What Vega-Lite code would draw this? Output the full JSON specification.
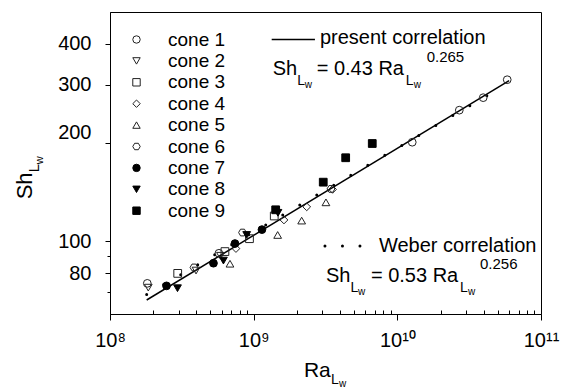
{
  "$schema": "https://vega.github.io/schema/vega-lite/v6.json",
  "width": 431,
  "height": 302,
  "autosize": {"type": "none"},
  "padding": {"left": 110, "top": 12, "right": 28, "bottom": 75},
  "background": "white",
  "config": {
    "font": "Liberation Sans",
    "view": {"stroke": "#000", "strokeWidth": 1},
    "axis": {"domainColor": "#000", "tickColor": "#000", "labelColor": "#000", "grid": false, "labelFont": "Liberation Sans", "labelFontSize": 20, "labelOverlap": false, "labelFlush": false},
    "text": {"font": "Liberation Sans", "color": "#000"}
  },
  "datasets": {
    "points": [
      {"cone": "cone 1", "Ra": 1.818e8, "Sh": 74.4},
      {"cone": "cone 1", "Ra": 5.73e8, "Sh": 91.9},
      {"cone": "cone 1", "Ra": 1.27e10, "Sh": 200.4},
      {"cone": "cone 1", "Ra": 2.70e10, "Sh": 251.0},
      {"cone": "cone 1", "Ra": 3.96e10, "Sh": 274.0},
      {"cone": "cone 1", "Ra": 5.82e10, "Sh": 310.8},
      {"cone": "cone 2", "Ra": 1.847e8, "Sh": 72.2},
      {"cone": "cone 2", "Ra": 3.97e8, "Sh": 81.4},
      {"cone": "cone 2", "Ra": 5.87e8, "Sh": 90.3},
      {"cone": "cone 3", "Ra": 2.96e8, "Sh": 79.8},
      {"cone": "cone 3", "Ra": 6.31e8, "Sh": 93.0},
      {"cone": "cone 3", "Ra": 9.35e8, "Sh": 101.8},
      {"cone": "cone 3", "Ra": 1.391e9, "Sh": 119.4},
      {"cone": "cone 4", "Ra": 7.53e8, "Sh": 95.0},
      {"cone": "cone 4", "Ra": 1.625e9, "Sh": 116.1},
      {"cone": "cone 4", "Ra": 2.34e9, "Sh": 127.3},
      {"cone": "cone 4", "Ra": 3.54e9, "Sh": 143.9},
      {"cone": "cone 5", "Ra": 6.84e8, "Sh": 85.4},
      {"cone": "cone 5", "Ra": 1.469e9, "Sh": 104.5},
      {"cone": "cone 5", "Ra": 2.158e9, "Sh": 115.6},
      {"cone": "cone 5", "Ra": 3.185e9, "Sh": 131.4},
      {"cone": "cone 6", "Ra": 3.84e8, "Sh": 83.2},
      {"cone": "cone 6", "Ra": 8.36e8, "Sh": 106.3},
      {"cone": "cone 6", "Ra": 3.45e9, "Sh": 144.4},
      {"cone": "cone 7", "Ra": 2.474e8, "Sh": 73.1},
      {"cone": "cone 7", "Ra": 5.25e8, "Sh": 85.7},
      {"cone": "cone 7", "Ra": 7.41e8, "Sh": 98.4},
      {"cone": "cone 7", "Ra": 1.142e9, "Sh": 108.5},
      {"cone": "cone 8", "Ra": 2.95e8, "Sh": 71.9},
      {"cone": "cone 8", "Ra": 6.16e8, "Sh": 87.3},
      {"cone": "cone 8", "Ra": 8.94e8, "Sh": 104.5},
      {"cone": "cone 8", "Ra": 1.476e9, "Sh": 122.1},
      {"cone": "cone 9", "Ra": 1.423e9, "Sh": 124.7},
      {"cone": "cone 9", "Ra": 3.05e9, "Sh": 151.4},
      {"cone": "cone 9", "Ra": 4.37e9, "Sh": 179.7},
      {"cone": "cone 9", "Ra": 6.69e9, "Sh": 198.6}
    ],
    "present": [
      {"Ra": 1.8e8, "Sh": 66.2},
      {"Ra": 6.0e10, "Sh": 308.8}
    ],
    "weber": [
      {"Ra": 1.8e8, "Sh": 68.8},
      {"Ra": 5.5e10, "Sh": 297.7}
    ]
  },
  "layer": [
    {
      "data": {"name": "present"},
      "mark": {"type": "line", "stroke": "#000", "strokeWidth": 1.5},
      "encoding": {
        "x": {"field": "Ra", "type": "quantitative", "title": null,
          "scale": {"type": "log", "domain": [1e8, 1e11], "nice": false},
          "axis": {
            "values": [1e8, 2e8, 3e8, 4e8, 5e8, 6e8, 7e8, 8e8, 9e8, 1e9, 2e9, 3e9, 4e9, 5e9, 6e9, 7e9, 8e9, 9e9, 1e10, 2e10, 3e10, 4e10, 5e10, 6e10, 7e10, 8e10, 9e10, 1e11],
            "labelExpr": "datum.value == 100000000 ? '10\u2078' : datum.value == 1000000000 ? '10\u2079' : datum.value == 10000000000 ? '10\u00b9\u2070' : datum.value == 100000000000 ? '10\u00b9\u00b9' : ''",
            "tickSize": {"condition": {"test": "abs(log(datum.value)/LN10 - round(log(datum.value)/LN10)) < 0.001", "value": 6}, "value": -4},
            "labelPadding": 10,
            "title": null
          }
        },
        "y": {"field": "Sh", "type": "quantitative", "title": null,
          "scale": {"type": "log", "domain": [60, 500], "nice": false},
          "axis": {
            "values": [70, 80, 90, 100, 200, 300, 400],
            "labelExpr": "datum.value == 70 || datum.value == 90 ? '' : datum.label",
            "tickSize": {"condition": {"test": "datum.value == 70 || datum.value == 90", "value": 3}, "value": 5},
            "labelOffset": {"condition": {"test": "datum.value == 200", "value": -10}, "value": 0},
            "labelPadding": 14,
            "title": null
          }
        }
      }
    },
    {
      "data": {"name": "weber"},
      "mark": {"type": "line", "stroke": "#000", "strokeWidth": 3, "strokeDash": [0, 19.7], "strokeCap": "round"},
      "encoding": {
        "x": {"field": "Ra", "type": "quantitative", "title": null, "scale": {"type": "log", "domain": [1e8, 1e11], "nice": false}},
        "y": {"field": "Sh", "type": "quantitative", "title": null, "scale": {"type": "log", "domain": [60, 500], "nice": false}}
      }
    },
    {
      "data": {"name": "points"},
      "mark": {"type": "point", "filled": true, "strokeWidth": 1, "size": 60, "opacity": 1},
      "encoding": {
        "x": {"field": "Ra", "type": "quantitative", "title": null, "scale": {"type": "log", "domain": [1e8, 1e11], "nice": false}},
        "y": {"field": "Sh", "type": "quantitative", "title": null, "scale": {"type": "log", "domain": [60, 500], "nice": false}},
        "shape": {"field": "cone", "type": "nominal",
          "scale": {"domain": ["cone 1", "cone 2", "cone 3", "cone 4", "cone 5", "cone 6", "cone 7", "cone 8", "cone 9"],
            "range": ["circle", "triangle-down", "square", "diamond", "triangle-up", "M-1,0L-0.5,-0.866L0.5,-0.866L1,0L0.5,0.866L-0.5,0.866Z", "circle", "triangle-down", "square"]},
          "legend": {"orient": "none", "legendX": 17, "legendY": 18, "title": null, "labelFontSize": 19, "labelFont": "Liberation Sans", "labelColor": "#000", "symbolSize": 55, "symbolStrokeWidth": 1, "rowPadding": 1.4, "labelOffset": 22, "padding": 0}
        },
        "fill": {"field": "cone", "type": "nominal",
          "scale": {"domain": ["cone 1", "cone 2", "cone 3", "cone 4", "cone 5", "cone 6", "cone 7", "cone 8", "cone 9"],
            "range": ["transparent", "transparent", "transparent", "transparent", "transparent", "transparent", "#000", "#000", "#000"]},
          "legend": {"orient": "none", "legendX": 17, "legendY": 18, "title": null, "labelFontSize": 19, "labelFont": "Liberation Sans", "labelColor": "#000", "symbolSize": 55, "symbolStrokeWidth": 1, "rowPadding": 1.4, "labelOffset": 22, "padding": 0}
        },
        "stroke": {"field": "cone", "type": "nominal",
          "scale": {"domain": ["cone 1", "cone 2", "cone 3", "cone 4", "cone 5", "cone 6", "cone 7", "cone 8", "cone 9"],
            "range": ["#222", "#222", "#222", "#222", "#222", "#222", "#000", "#000", "#000"]},
          "legend": {"orient": "none", "legendX": 17, "legendY": 18, "title": null, "labelFontSize": 19, "labelFont": "Liberation Sans", "labelColor": "#000", "symbolSize": 55, "symbolStrokeWidth": 1, "rowPadding": 1.4, "labelOffset": 22, "padding": 0}
        }
      }
    },
    {
      "data": {"values": [{}]},
      "mark": {"type": "rule", "stroke": "#000", "strokeWidth": 1.5},
      "encoding": {
        "x": {"datum": 1.335e9, "type": "quantitative", "title": null, "scale": {"type": "log", "domain": [1e8, 1e11], "nice": false}},
        "x2": {"datum": 2.67e9},
        "y": {"datum": 412.0, "type": "quantitative", "title": null, "scale": {"type": "log", "domain": [60, 500], "nice": false}}
      }
    },
    {
      "data": {"values": [{}]},
      "mark": {"type": "rule", "stroke": "#000", "strokeWidth": 3, "strokeDash": [0, 17.5], "strokeCap": "round"},
      "encoding": {
        "x": {"datum": 3.135e9, "type": "quantitative", "title": null, "scale": {"type": "log", "domain": [1e8, 1e11], "nice": false}},
        "x2": {"datum": 5.6e9},
        "y": {"datum": 96.77, "type": "quantitative", "title": null, "scale": {"type": "log", "domain": [60, 500], "nice": false}}
      }
    },
    {
      "data": {"values": [{}]},
      "mark": {"type": "text", "text": "present correlation", "fontSize": 20, "align": "left", "baseline": "alphabetic"},
      "encoding": {
        "x": {"datum": 2.893e9, "type": "quantitative", "title": null, "scale": {"type": "log", "domain": [1e8, 1e11], "nice": false}},
        "y": {"datum": 399.6, "type": "quantitative", "title": null, "scale": {"type": "log", "domain": [60, 500], "nice": false}}
      }
    },
    {
      "data": {"values": [{}]},
      "mark": {"type": "text", "text": "Weber correlation", "fontSize": 20, "align": "left", "baseline": "alphabetic"},
      "encoding": {
        "x": {"datum": 7.447e9, "type": "quantitative", "title": null, "scale": {"type": "log", "domain": [1e8, 1e11], "nice": false}},
        "y": {"datum": 92.4, "type": "quantitative", "title": null, "scale": {"type": "log", "domain": [60, 500], "nice": false}}
      }
    },
    {
      "data": {"values": [{}]},
      "layer": [
        {"mark": {"type": "text", "text": "Sh", "fontSize": 20, "align": "left", "baseline": "alphabetic"}},
        {"mark": {"type": "text", "text": "L", "fontSize": 14, "align": "left", "baseline": "alphabetic", "dx": 24.5, "dy": 10}},
        {"mark": {"type": "text", "text": "w", "fontSize": 10, "align": "left", "baseline": "alphabetic", "dx": 32, "dy": 13}},
        {"mark": {"type": "text", "text": "= 0.43 Ra", "fontSize": 20, "align": "left", "baseline": "alphabetic", "dx": 44}},
        {"mark": {"type": "text", "text": "L", "fontSize": 14, "align": "left", "baseline": "alphabetic", "dx": 133, "dy": 10}},
        {"mark": {"type": "text", "text": "w", "fontSize": 10, "align": "left", "baseline": "alphabetic", "dx": 141, "dy": 13}},
        {"mark": {"type": "text", "text": "0.265", "fontSize": 15, "align": "left", "baseline": "alphabetic", "dx": 154, "dy": -13}}
      ],
      "encoding": {
        "x": {"datum": 1.356e9, "type": "quantitative", "title": null, "scale": {"type": "log", "domain": [1e8, 1e11], "nice": false}},
        "y": {"datum": 321.8, "type": "quantitative", "title": null, "scale": {"type": "log", "domain": [60, 500], "nice": false}}
      }
    },
    {
      "data": {"values": [{}]},
      "layer": [
        {"mark": {"type": "text", "text": "Sh", "fontSize": 20, "align": "left", "baseline": "alphabetic"}},
        {"mark": {"type": "text", "text": "L", "fontSize": 14, "align": "left", "baseline": "alphabetic", "dx": 24.5, "dy": 10}},
        {"mark": {"type": "text", "text": "w", "fontSize": 10, "align": "left", "baseline": "alphabetic", "dx": 32, "dy": 13}},
        {"mark": {"type": "text", "text": "= 0.53 Ra", "fontSize": 20, "align": "left", "baseline": "alphabetic", "dx": 45}},
        {"mark": {"type": "text", "text": "L", "fontSize": 14, "align": "left", "baseline": "alphabetic", "dx": 134, "dy": 10}},
        {"mark": {"type": "text", "text": "w", "fontSize": 10, "align": "left", "baseline": "alphabetic", "dx": 142, "dy": 13}},
        {"mark": {"type": "text", "text": "0.256", "fontSize": 15, "align": "left", "baseline": "alphabetic", "dx": 154, "dy": -13}}
      ],
      "encoding": {
        "x": {"datum": 3.185e9, "type": "quantitative", "title": null, "scale": {"type": "log", "domain": [1e8, 1e11], "nice": false}},
        "y": {"datum": 75.07, "type": "quantitative", "title": null, "scale": {"type": "log", "domain": [60, 500], "nice": false}}
      }
    },
    {
      "data": {"values": [{}]},
      "layer": [
        {"mark": {"type": "text", "text": "Ra", "fontSize": 21, "align": "left", "baseline": "alphabetic"}},
        {"mark": {"type": "text", "text": "L", "fontSize": 14, "align": "left", "baseline": "alphabetic", "dx": 27, "dy": 7}},
        {"mark": {"type": "text", "text": "w", "fontSize": 10, "align": "left", "baseline": "alphabetic", "dx": 35, "dy": 10}}
      ],
      "encoding": {
        "x": {"datum": 2.239e9, "type": "quantitative", "title": null, "scale": {"type": "log", "domain": [1e8, 1e11], "nice": false}},
        "y": {"datum": 38.6, "type": "quantitative", "title": null, "scale": {"type": "log", "domain": [60, 500], "nice": false}}
      }
    },
    {
      "data": {"values": [{}]},
      "layer": [
        {"mark": {"type": "text", "text": "Sh", "fontSize": 22, "angle": 270, "align": "left", "baseline": "alphabetic"}},
        {"mark": {"type": "text", "text": "L", "fontSize": 15, "angle": 270, "align": "left", "baseline": "alphabetic", "dx": 27, "dy": 7}},
        {"mark": {"type": "text", "text": "w", "fontSize": 11, "angle": 270, "align": "left", "baseline": "alphabetic", "dx": 35, "dy": 11}}
      ],
      "encoding": {
        "x": {"datum": 2.851e7, "type": "quantitative", "title": null, "scale": {"type": "log", "domain": [1e8, 1e11], "nice": false}},
        "y": {"datum": 134.2, "type": "quantitative", "title": null, "scale": {"type": "log", "domain": [60, 500], "nice": false}}
      }
    }
  ]
}
